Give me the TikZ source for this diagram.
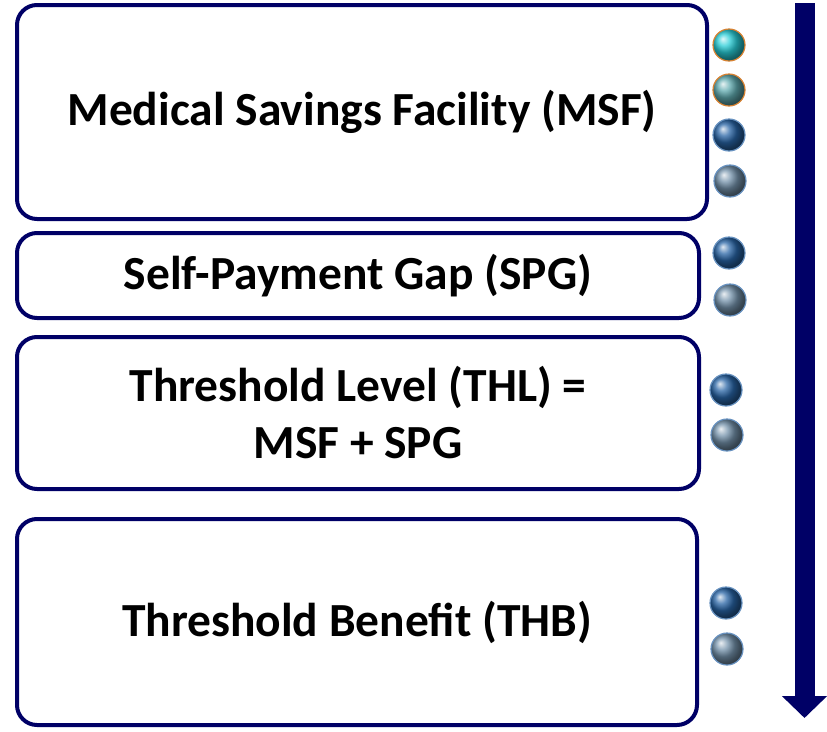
\documentclass[tikz,border=0pt]{standalone}
\usepackage{fontspec}
\setmainfont{Carlito}
\usepackage{xcolor}
\usepackage{tikz}
\usetikzlibrary{positioning,arrows.meta}
\definecolor{navy}{RGB}{0,0,102}
\definecolor{tealball}{RGB}{40,205,215}
\definecolor{greentealball}{RGB}{95,170,175}
\definecolor{blueball}{RGB}{40,100,165}
\definecolor{greyball}{RGB}{115,145,170}
\definecolor{ring}{RGB}{215,130,50}
\tikzset{box node/.style={draw=navy,line width=4pt,rounded corners=20pt,fill=white,
    align=center,font=\fontsize{47.5}{57}\selectfont\bfseries,inner sep=0pt},
  ball node/.style={circle,minimum size=32pt,inner sep=0pt,line width=1.2pt},}

\begin{document}
\begin{tikzpicture}[x=1pt,y=-1pt]
    \useasboundingbox (0,0) rectangle (827,731);

    % boxes
    \node[box node,minimum width=690pt,minimum height=214pt] (msf) at (362,112) {Medical Savings Facility (MSF)};
    \node[box node,minimum width=682pt,minimum height=85pt] (spg) at (358,275.5) {Self-Payment Gap (SPG)};
    \node[box node,minimum width=682pt,minimum height=152pt] (thl) at (358,413) {Threshold Level (THL) =\\MSF + SPG};
    \node[box node,minimum width=680pt,minimum height=206pt] (thb) at (357,622) {Threshold Benefit (THB)};

    % balls
    \node[ball node,ball color=tealball,draw=ring] (b1) at (729,45) {};
    \node[ball node,ball color=greentealball,draw=ring] (b2) at (729,90) {};
    \node[ball node,ball color=blueball,draw=blueball!70] (b3) at (729,135) {};
    \node[ball node,ball color=greyball,draw=blueball!70] (b4) at (730,181) {};
    \node[ball node,ball color=blueball,draw=blueball!70] (b5) at (729,253) {};
    \node[ball node,ball color=greyball,draw=blueball!70] (b6) at (730,300) {};
    \node[ball node,ball color=blueball,draw=blueball!70] (b7) at (726,390) {};
    \node[ball node,ball color=greyball,draw=blueball!70] (b8) at (727,435) {};
    \node[ball node,ball color=blueball,draw=blueball!70] (b9) at (726,603) {};
    \node[ball node,ball color=greyball,draw=blueball!70] (b10) at (727,649) {};

    % arrow
    \coordinate (top) at (804.5,3);
    \coordinate (bottom) at (804.5,718);
    \draw[navy,line width=20pt,-{Triangle[width=44pt,length=22pt]}] (top) -- (bottom);
\end{tikzpicture}
\end{document}
